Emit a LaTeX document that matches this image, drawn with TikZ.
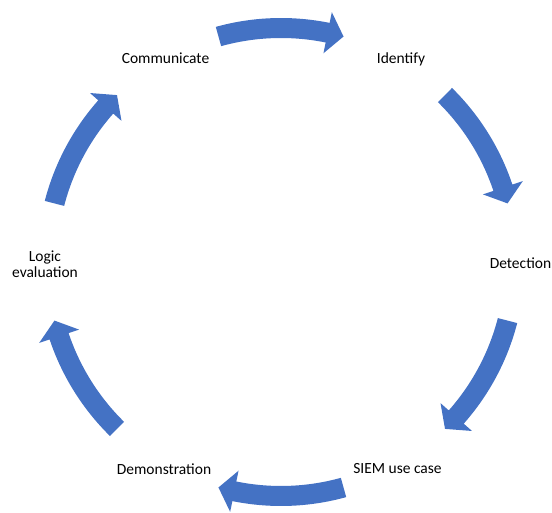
\documentclass[tikz,border=0pt]{standalone}
\usepackage{fontspec}
\setmainfont{Carlito}
\usepackage{tikz}
\definecolor{cc}{RGB}{68, 114, 196}

\begin{document}
\begin{tikzpicture}[lbl/.style={align=center, inner sep=0pt, font=\fontsize{15.5}{16.5}\selectfont},
  cyc/.style={fill=cc, draw=none}]
\useasboundingbox (-281pt, -251pt) rectangle (271pt, 262pt);
\node (communicate) [lbl] at (-115.5pt, 204pt) {Communicate};
\node (identify) [lbl] at (120pt, 203pt) {Identify};
\node (detection) [lbl] at (239.5pt, -1pt) {Detection};
\node (siem) [lbl] at (116.5pt, -207pt) {SIEM use case};
\node (demo) [lbl] at (-117pt, -207pt) {Demonstration};
\node (logic) [lbl] at (-236pt, -2pt) {Logic\\evaluation};
\foreach \a in {90, 30, -30, -90, -150, 150}
  \fill[cyc] ({\a+15.5}:244pt) arc[start angle=\a+15.5, end angle=\a-11.5, radius=244pt]
    -- ({\a-11.5}:255pt) -- ({\a-15.5}:234pt) -- ({\a-11.5}:213pt) -- ({\a-11.5}:224pt)
    arc[start angle=\a-11.5, end angle=\a+15.5, radius=224pt] -- cycle;
\end{tikzpicture}
\end{document}
